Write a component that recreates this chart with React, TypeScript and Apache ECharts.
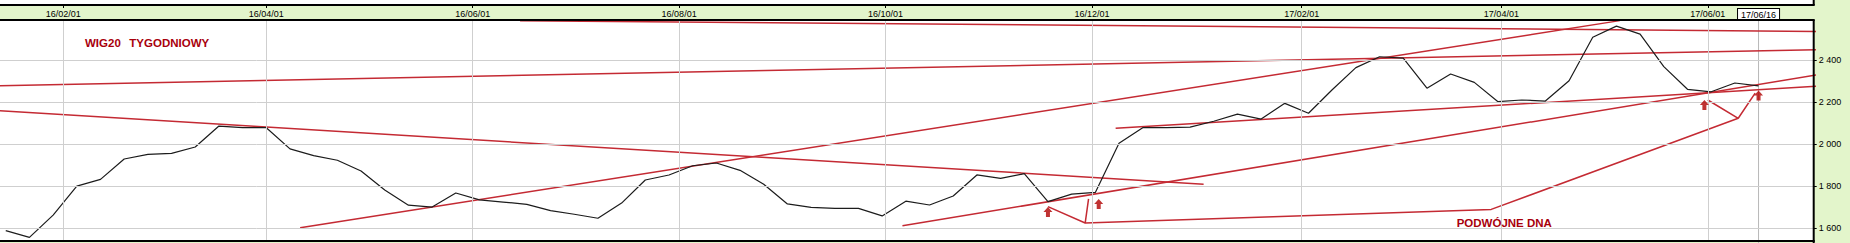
import { useEffect, useRef } from 'react';
import * as echarts from 'echarts';

// ---- calendar helpers (day numbers counted from 2016-01-01, UTC) ----
const BASE_UTC = Date.UTC(2016, 0, 1);
const dayOf = (iso: string): number => {
  const [y, m, d] = iso.split('-').map(Number);
  return (Date.UTC(y, m - 1, d) - BASE_UTC) / 86400000;
};
const shortDate = (iso: string) => iso.slice(2).replace(/-/g, '/');

// ---- data ----
const FIRST_WEEK = '2016-01-15';
const WEEKLY_CLOSE = [
  1589, 1557, 1663, 1801, 1833, 1930, 1952, 1957, 1987, 2087,
  2079, 2079, 1978, 1946, 1924, 1873, 1782, 1710, 1701, 1768,
  1735, 1725, 1714, 1684, 1667, 1648, 1720, 1830, 1854, 1898,
  1911, 1876, 1810, 1716, 1700, 1695, 1695, 1659, 1729, 1711,
  1754, 1854, 1838, 1860, 1727, 1763, 1771, 2005, 2079, 2079,
  2082, 2110, 2144, 2120, 2195, 2148, 2260, 2365, 2417, 2410,
  2267, 2335, 2295, 2203, 2211, 2206, 2303, 2510, 2563, 2525,
  2370, 2262, 2250, 2292, 2278,
];
const LAST_CLOSE_TEXT = '2 278,03';

const MONTH_TICKS = [
  '2016-02-01', '2016-04-01', '2016-06-01', '2016-08-01', '2016-10-01',
  '2016-12-01', '2017-02-01', '2017-04-01', '2017-06-01',
];
const CURSOR_DATE = '2017-06-16';
const PRICE_TICKS = [1600, 1800, 2000, 2200, 2400];

// trend lines drawn on the chart: [date, level] end points
const TREND_LINES: [string, number][][] = [
  [['2016-06-15', 2589], ['2017-07-13', 2536]],
  [['2016-01-13', 2279], ['2017-07-13', 2454]],
  [['2016-01-13', 2160], ['2017-01-03', 1810]],
  [['2016-04-11', 1603], ['2017-05-06', 2589]],
  [['2016-10-06', 1612], ['2017-07-13', 2357]],
  [['2016-12-08', 2076], ['2017-07-13', 2286]],
];

// "double bottom" annotation strokes
const DOUBLE_BOTTOM_STROKES: [string, number][][] = [
  [['2016-11-18', 1703], ['2016-11-29', 1625], ['2016-11-30', 1740]],
  [['2016-11-29', 1625], ['2017-03-29', 1690], ['2017-06-10', 2124]],
  [['2017-06-01', 2211], ['2017-06-10', 2124], ['2017-06-15', 2244]],
];

// up arrows marking the bottoms
const ARROW_MARKS: [string, number][] = [
  ['2016-11-18', 1678],
  ['2016-12-03', 1716],
  ['2017-05-31', 2187],
  ['2017-06-16', 2233],
];

const TITLE_WORDS = ['WIG20', 'TYGODNIOWY'];
const PATTERN_TEXT = 'PODWÓJNE DNA';

// ---- view ----
const VIEW_START = dayOf('2016-01-13') + 0.3;
const VIEW_END = dayOf('2017-07-02') + 0.3;
const PRICE_MIN = 1539.5;
const PRICE_MAX = 2592;

const W = 1850;
const H = 243;
const PLOT_RIGHT = 1813.7;
const PLOT_TOP = 20;
const PLOT_BOTTOM = 241;

const RED = '#c42a33';
const DARK_RED = '#a8000c';
const GREEN = '#e3f5cb';
const GRID_GREY = '#cfcfcf';
const FONT = "'Liberation Sans', Arial, sans-serif";

const ARROW_PATH = 'path://M4.5,0 L9,5 L6.5,5 L6.5,10 L2.5,10 L2.5,5 L0,5 Z';

const groupPrice = (v: number) => String(v).replace(/\B(?=(\d{3})+(?!\d))/g, ' ');

export default function App() {
  const ref = useRef<HTMLDivElement>(null);

  useEffect(() => {
    document.body.style.margin = '0';
    if (!ref.current) return;
    const chart = echarts.init(ref.current, undefined, { renderer: 'svg' });

    const firstDay = dayOf(FIRST_WEEK);
    const closes = WEEKLY_CLOSE.map((v, i) => [firstDay + 7 * i, v]);
    const monthDays = MONTH_TICKS.map(dayOf);
    const cursorDay = dayOf(CURSOR_DATE);
    const labelByDay = new Map<number, string>();
    MONTH_TICKS.forEach((d) => labelByDay.set(dayOf(d), d));
    labelByDay.set(cursorDay, CURSOR_DATE);

    const toPts = (pts: [string, number][]) => pts.map(([d, v]) => [dayOf(d), v]);

    const redStroke = (name: string, pts: [string, number][]) => ({
      name,
      type: 'line',
      data: toPts(pts),
      symbol: 'none',
      clip: false,
      silent: true,
      z: 3,
      lineStyle: { color: RED, width: 1.5 },
    });

    const option: any = {
      animation: false,
      grid: {
        left: 0,
        top: PLOT_TOP,
        width: PLOT_RIGHT,
        height: PLOT_BOTTOM - PLOT_TOP,
        containLabel: false,
        outerBoundsMode: 'none',
        show: true,
        backgroundColor: '#ffffff',
        borderWidth: 0,
      },
      xAxis: {
        type: 'value',
        position: 'top',
        offset: 15,
        min: VIEW_START,
        max: VIEW_END,
        axisLine: { show: false },
        axisTick: {
          show: true,
          inside: true,
          length: 3,
          customValues: monthDays,
          lineStyle: { color: '#000', width: 1 },
        },
        axisLabel: {
          show: true,
          inside: true,
          margin: 4,
          fontSize: 9,
          fontFamily: FONT,
          color: '#000',
          customValues: [...monthDays, cursorDay],
          formatter: (v: number) => {
            const key = Math.round(v);
            const iso = labelByDay.get(key);
            if (!iso) return '';
            return key === cursorDay ? `{box|${shortDate(iso)}}` : shortDate(iso);
          },
          rich: {
            box: {
              fontSize: 9,
              fontFamily: FONT,
              color: '#000',
              backgroundColor: '#ffffff',
              borderColor: '#000',
              borderWidth: 1,
              padding: [1, 3, 0, 3],
            },
          },
        },
        splitLine: { show: false },
      },
      yAxis: {
        type: 'value',
        position: 'right',
        min: PRICE_MIN,
        max: PRICE_MAX,
        axisLine: { show: false },
        axisTick: {
          show: true,
          length: 3,
          customValues: PRICE_TICKS,
          lineStyle: { color: '#000' },
        },
        axisLabel: {
          show: true,
          margin: 5,
          fontSize: 9,
          fontFamily: FONT,
          color: '#000',
          customValues: PRICE_TICKS,
          formatter: (v: number) => groupPrice(v),
        },
        splitLine: { show: false },
      },
      graphic: [
        { type: 'rect', shape: { x: 0, y: 0, width: PLOT_RIGHT, height: 4 }, style: { fill: '#ffffff' }, z: 50, silent: true },
        { type: 'line', shape: { x1: 0, y1: 5, x2: PLOT_RIGHT + 1, y2: 5 }, style: { stroke: '#000', lineWidth: 2 }, z: 60, silent: true },
        { type: 'line', shape: { x1: PLOT_RIGHT, y1: 0, x2: PLOT_RIGHT, y2: 5 }, style: { stroke: '#000', lineWidth: 2 }, z: 60, silent: true },
        { type: 'line', shape: { x1: 0, y1: PLOT_TOP, x2: PLOT_RIGHT + 1, y2: PLOT_TOP }, style: { stroke: '#000', lineWidth: 2 }, z: 60, silent: true },
        { type: 'line', shape: { x1: 0, y1: PLOT_BOTTOM, x2: PLOT_RIGHT + 1, y2: PLOT_BOTTOM }, style: { stroke: '#000', lineWidth: 2 }, z: 60, silent: true },
        { type: 'line', shape: { x1: PLOT_RIGHT, y1: PLOT_TOP, x2: PLOT_RIGHT, y2: H }, style: { stroke: '#000', lineWidth: 2 }, z: 60, silent: true },
        {
          type: 'text', x: 85, y: 43, z: 60, silent: true,
          style: { text: TITLE_WORDS[0], fill: DARK_RED, font: `bold 11.5px ${FONT}`, textVerticalAlign: 'middle' },
        },
        {
          type: 'text', x: 129.3, y: 43, z: 60, silent: true,
          style: { text: TITLE_WORDS[1], fill: DARK_RED, font: `bold 11.5px ${FONT}`, textVerticalAlign: 'middle' },
        },
        {
          type: 'text', x: 1456.7, y: 223, z: 60, silent: true,
          style: { text: PATTERN_TEXT, fill: DARK_RED, font: `bold 11.5px ${FONT}`, textVerticalAlign: 'middle' },
        },
      ],
      series: [
        {
          name: 'grid',
          type: 'line',
          data: [[VIEW_START, PRICE_MIN]],
          symbol: 'none',
          silent: true,
          z: 1,
          lineStyle: { width: 0 },
          markLine: {
            silent: true,
            symbol: ['none', 'none'],
            label: { show: false },
            emphasis: { disabled: true },
            lineStyle: { color: GRID_GREY, width: 1, type: 'solid' },
            data: [
              ...PRICE_TICKS.map((v) => ({ yAxis: v })),
              ...monthDays.map((d) => ({ xAxis: d })),
            ],
          },
        },
        {
          name: 'cursor',
          type: 'line',
          data: [[cursorDay, PRICE_MAX], [cursorDay, 1529]],
          symbol: 'none',
          clip: false,
          silent: true,
          z: 2,
          lineStyle: { color: '#b8b8b8', width: 1 },
        },
        ...TREND_LINES.map((pts, i) => redStroke(`trend${i}`, pts)),
        ...DOUBLE_BOTTOM_STROKES.map((pts, i) => redStroke(`bottom${i}`, pts)),
        {
          name: 'WIG20',
          type: 'line',
          data: closes,
          symbol: 'none',
          silent: true,
          z: 4,
          lineStyle: { color: '#1c1c1c', width: 1.2 },
          markLine: {
            silent: true,
            symbol: ['none', 'none'],
            lineStyle: { opacity: 0 },
            emphasis: { disabled: true },
            data: [{ yAxis: WEEKLY_CLOSE[WEEKLY_CLOSE.length - 1] }],
            label: {
              show: true,
              position: 'end',
              distance: 6,
              offset: [0, -3],
              formatter: LAST_CLOSE_TEXT,
              fontSize: 9,
              fontFamily: FONT,
              color: '#000',
              backgroundColor: '#ffffff',
              borderColor: '#000',
              borderWidth: 1,
              padding: [1, 2, 0, 2],
            },
          },
        },
        {
          name: 'arrows',
          type: 'scatter',
          data: ARROW_MARKS.map(([d, v]) => [dayOf(d), v]),
          symbol: ARROW_PATH,
          symbolSize: [9, 10],
          silent: true,
          z: 5,
          itemStyle: { color: '#b00000' },
        },
      ],
    };

    chart.setOption(option);
    return () => chart.dispose();
  }, []);

  return <div ref={ref} style={{ width: W, height: H, background: GREEN }} />;
}
